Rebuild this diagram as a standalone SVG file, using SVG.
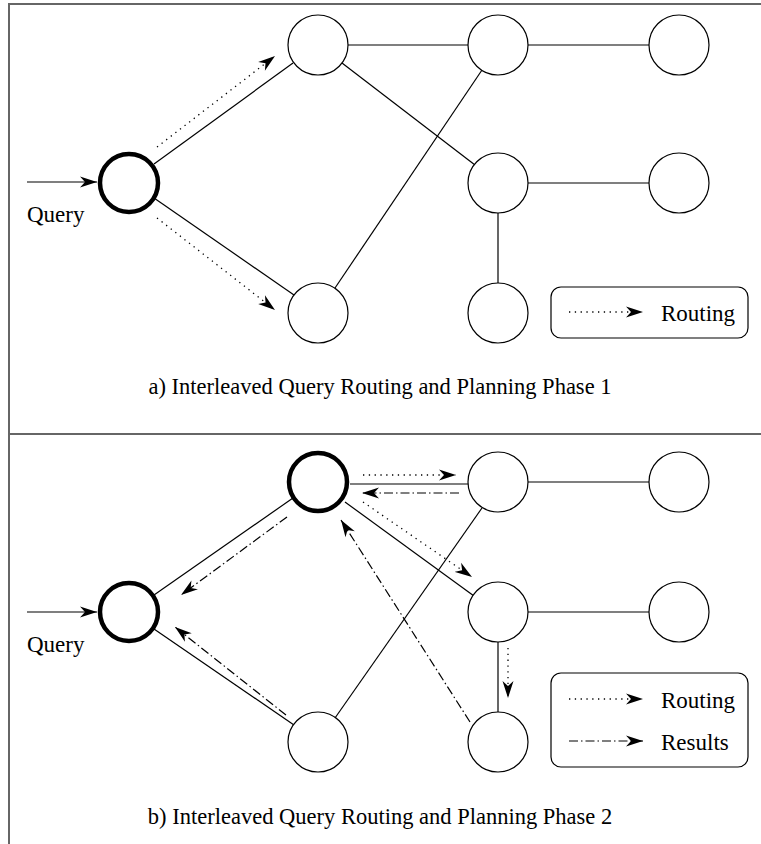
<svg xmlns="http://www.w3.org/2000/svg" width="761" height="844" viewBox="0 0 761 844">
  <style>
    .frame { stroke: #666; stroke-width: 2; fill: none; }
    .node { fill: #fff; stroke: #000; stroke-width: 1.2; }
    .node.bold { stroke-width: 4.5; }
    .edge { stroke: #000; stroke-width: 1.2; fill: none; }
    .route { stroke: #000; stroke-width: 1.3; fill: none; stroke-dasharray: 1.3 4.5; marker-end: url(#head); }
    .result { stroke: #000; stroke-width: 1.2; fill: none; stroke-dasharray: 9 3 1.5 3; marker-end: url(#head); }
    .input { stroke: #000; stroke-width: 1.2; fill: none; marker-end: url(#head); }
    .legend { fill: #fff; stroke: #000; stroke-width: 1.2; }
    text { font-family: "Liberation Serif", "Times New Roman", serif; font-size: 23px; fill: #000; }
    .caption { text-anchor: middle; font-size: 22.5px; }
  </style>
  <defs>
    <marker id="head" markerUnits="userSpaceOnUse" markerWidth="20" markerHeight="12" viewBox="-17 -6 19 12" refX="0" refY="0" orient="auto">
      <path d="M0,0 L-17,-5.5 L-12,0 L-17,5.5 Z" fill="#000"/>
    </marker>
  </defs>

  <rect width="761" height="844" fill="#fff"/>

  <!-- outer frame and panel divider -->
  <g id="frame">
    <path class="frame" d="M9,844 V4 H761"/>
    <path class="frame" d="M9,434 H761"/>
  </g>

  <!-- ===== Phase 1 ===== -->
  <g id="edges-1">
    <line class="edge" x1="154" y1="164" x2="293" y2="63"/>
    <line class="edge" x1="154" y1="198" x2="294" y2="295"/>
    <line class="edge" x1="348" y1="45" x2="468" y2="45"/>
    <line class="edge" x1="528" y1="45" x2="649" y2="45"/>
    <line class="edge" x1="342" y1="63" x2="475" y2="165"/>
    <line class="edge" x1="335" y1="288" x2="482" y2="70"/>
    <line class="edge" x1="528" y1="183" x2="649" y2="183"/>
    <line class="edge" x1="498" y1="213" x2="498" y2="283"/>
    <line class="input" x1="27" y1="182" x2="97" y2="182"/>
    <line class="route" x1="157" y1="147" x2="275" y2="56"/>
    <line class="route" x1="157" y1="218" x2="275" y2="310"/>
  </g>

  <g id="q1"><circle class="node bold" cx="129" cy="183" r="29"/></g>
  <g id="a1"><circle class="node" cx="318" cy="45" r="30"/></g>
  <g id="b1"><circle class="node" cx="498" cy="45" r="30"/></g>
  <g id="c1"><circle class="node" cx="679" cy="45" r="30"/></g>
  <g id="d1"><circle class="node" cx="498" cy="183" r="30"/></g>
  <g id="e1"><circle class="node" cx="679" cy="183" r="30"/></g>
  <g id="f1"><circle class="node" cx="498" cy="313" r="30"/></g>
  <g id="g1"><circle class="node" cx="318" cy="313" r="30"/></g>

  <text x="27" y="222">Query</text>

  <g id="legend-1">
    <rect class="legend" x="551" y="287" width="197" height="51" rx="10"/>
    <line class="route" x1="569" y1="312" x2="643" y2="312"/>
    <text x="661" y="321">Routing</text>
  </g>

  <text class="caption" x="380" y="394">a) Interleaved Query Routing and Planning Phase 1</text>

  <!-- ===== Phase 2 ===== -->
  <g id="edges-2">
    <line class="edge" x1="154" y1="595" x2="293" y2="498"/>
    <line class="edge" x1="154" y1="629" x2="294" y2="725"/>
    <line class="edge" x1="350" y1="484" x2="468" y2="484"/>
    <line class="edge" x1="528" y1="482" x2="649" y2="482"/>
    <line class="edge" x1="345" y1="502" x2="474" y2="596"/>
    <line class="edge" x1="335" y1="718" x2="482" y2="508"/>
    <line class="edge" x1="528" y1="612" x2="649" y2="612"/>
    <line class="edge" x1="498" y1="642" x2="498" y2="712"/>
    <line class="input" x1="27" y1="612" x2="97" y2="612"/>
    <line class="route" x1="363" y1="475" x2="456" y2="475"/>
    <line class="result" x1="459" y1="493" x2="362" y2="493"/>
    <line class="route" x1="363" y1="502" x2="472" y2="577"/>
    <line class="route" x1="508" y1="648" x2="508" y2="698"/>
    <line class="result" x1="287" y1="517" x2="181" y2="595"/>
    <line class="result" x1="286" y1="715" x2="175" y2="627"/>
    <line class="result" x1="470" y1="722" x2="341" y2="520"/>
  </g>

  <g id="q2"><circle class="node bold" cx="129" cy="612" r="29"/></g>
  <g id="a2"><circle class="node bold" cx="318" cy="482" r="29"/></g>
  <g id="b2"><circle class="node" cx="498" cy="482" r="30"/></g>
  <g id="c2"><circle class="node" cx="679" cy="482" r="30"/></g>
  <g id="d2"><circle class="node" cx="498" cy="612" r="30"/></g>
  <g id="e2"><circle class="node" cx="679" cy="612" r="30"/></g>
  <g id="f2"><circle class="node" cx="498" cy="742" r="30"/></g>
  <g id="g2"><circle class="node" cx="318" cy="742" r="30"/></g>

  <text x="27" y="652">Query</text>

  <g id="legend-2">
    <rect class="legend" x="551" y="673" width="197" height="94" rx="10"/>
    <line class="route" x1="569" y1="699" x2="643" y2="699"/>
    <text x="661" y="708">Routing</text>
    <line class="result" x1="569" y1="741" x2="643" y2="741"/>
    <text x="661" y="750">Results</text>
  </g>

  <text class="caption" x="380" y="824">b) Interleaved Query Routing and Planning Phase 2</text>
</svg>
